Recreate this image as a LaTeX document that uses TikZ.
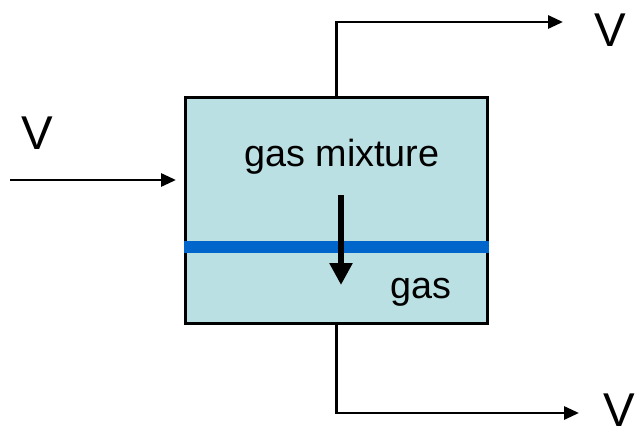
\documentclass[tikz,border=0pt]{standalone}
\usepackage{fontspec}
\setmainfont{Liberation Sans}
\usetikzlibrary{arrows.meta,calc,positioning}
\definecolor{cellfill}{HTML}{BBE0E3}
\definecolor{membranecolor}{HTML}{0066CC}
\tikzset{
  cell/.style={
    draw=black,
    fill=cellfill,
    line width=1.7pt,
    minimum width=6.06cm,
    minimum height=4.54cm,
    inner sep=0pt
  },
  stream/.style={
    draw=black,
    line width=1.7pt,
    line join=miter,
    -{Triangle[length=3.0mm,width=2.6mm]}
  },
  permeate/.style={
    draw=black,
    line width=3.6pt,
    -{Triangle[length=4.4mm,width=4.4mm]}
  },
  membrane/.style={draw=membranecolor, line width=7pt},
  flowlabel/.style={font=\fontsize{27}{30}\selectfont, inner sep=0pt},
  celllabel/.style={font=\fontsize{21.5}{24}\selectfont, inner sep=0pt}
}

\begin{document}
\begin{tikzpicture}[x=0.02cm, y=-0.02cm]
  \useasboundingbox (0,0) rectangle (638,435);

  \node[cell] (unit) at (336.5,210.5) {};

  % membrane across the cell
  \coordinate (memleft) at (unit.west |- 0,247);
  \coordinate (memright) at (unit.east |- 0,247);
  \draw[membrane] (memleft) -- (memright);

  \node[celllabel] (mixture) at (342,157) {gas mixture};
  \node[celllabel] (gas) at (421,292) {gas};

  \coordinate (passtop) at (341,195);
  \coordinate (passend) at (341,285);
  \draw[permeate] (passtop) -- (passend);

  % feed
  \node[flowlabel] (vfeed) at (37,133) {V};
  \coordinate (feed) at (10,180);
  \coordinate (feedend) at (176,180);
  \draw[stream] (feed) -- (feedend);

  % retentate
  \node[flowlabel] (vtop) at (610,30) {V};
  \coordinate (topend) at (563,22);
  \draw[stream] (unit.north) |- (topend);

  % permeate
  \node[flowlabel] (vbottom) at (619,410) {V};
  \coordinate (bottomend) at (579,413);
  \draw[stream] (unit.south) |- (bottomend);
\end{tikzpicture}
\end{document}
